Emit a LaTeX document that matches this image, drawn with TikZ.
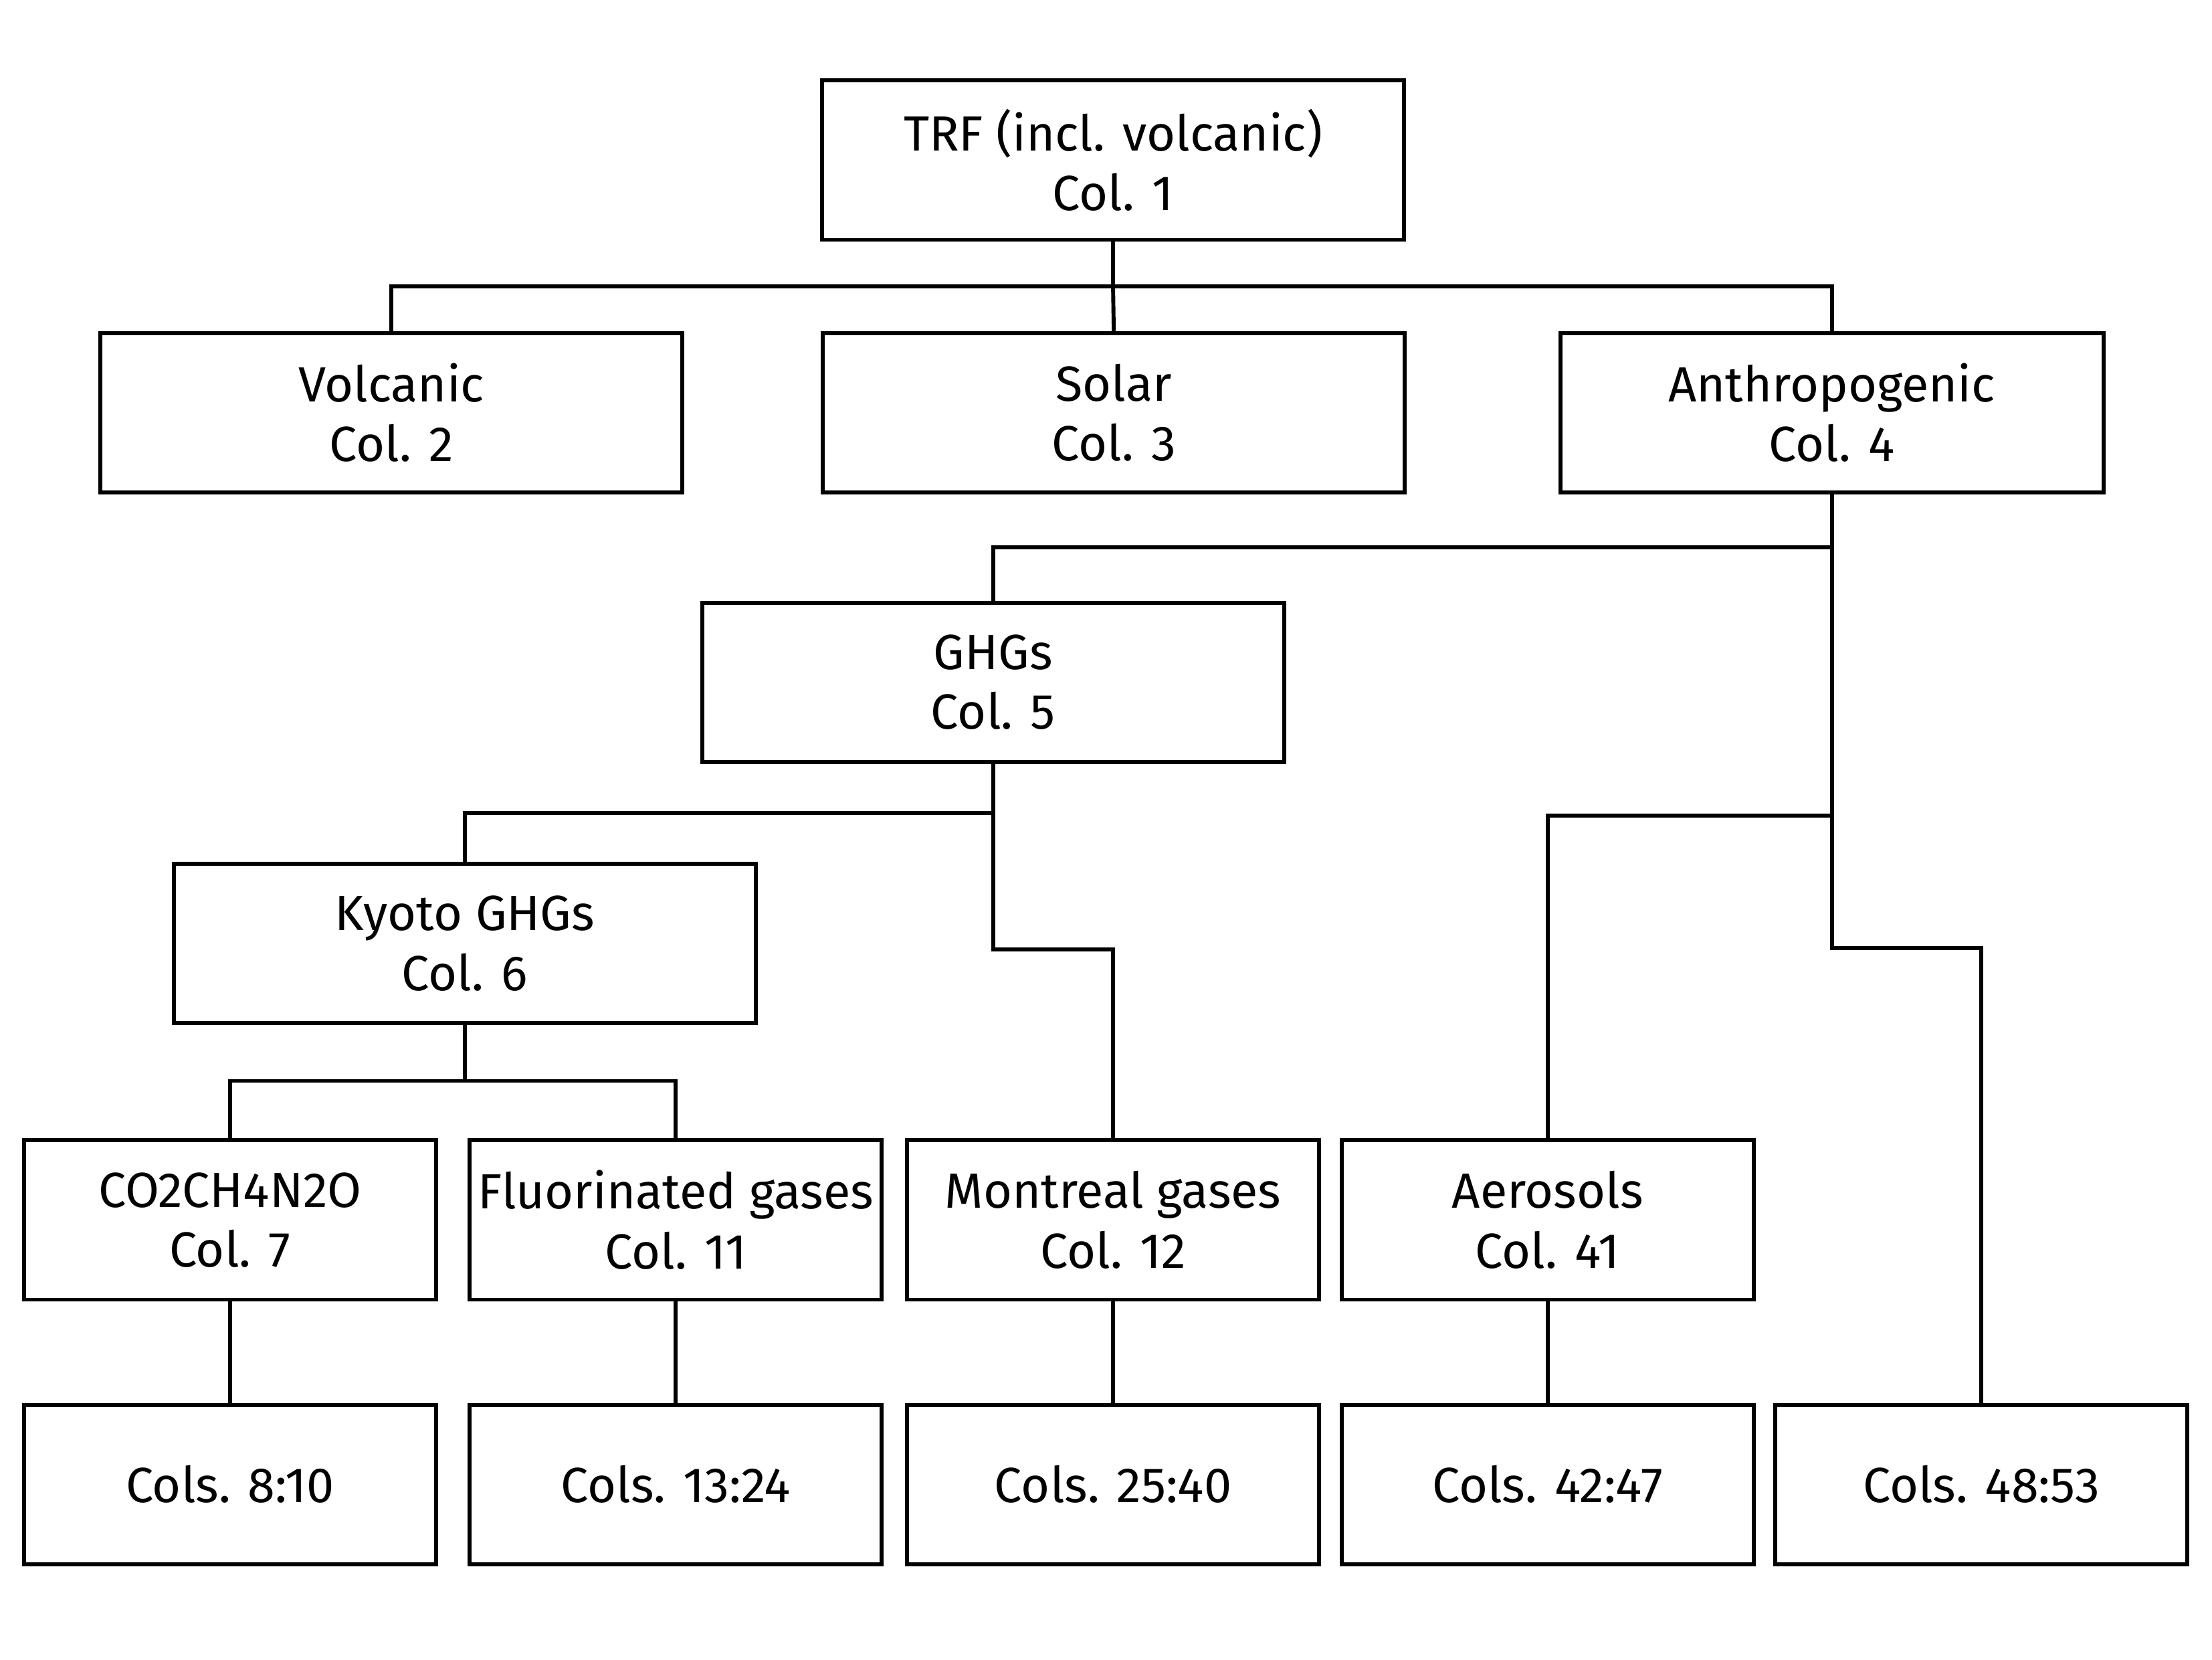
\documentclass[tikz,border=0pt]{standalone}
\usepackage{fontspec}
\setmainfont{Fira Sans}
\begin{document}
\begin{tikzpicture}[x=0.5pt,y=-0.5pt,
  box/.style={draw,line width=1.4pt,inner sep=0pt,align=center,
    minimum height=56.5pt,font=\fontsize{17.5}{21.2}\selectfont},
  wbox/.style={box,minimum width=206.25pt},
  sbox/.style={box,minimum width=146pt},
  conn/.style={line width=1.4pt}]
\useasboundingbox[fill=white] (0,0) rectangle (1568,1175.9);
% row 1
\node[wbox] (trf) at (789,113.5) {TRF (incl. volcanic)\\Col. 1};
% row 2
\node[wbox] (volc) at (277.5,292.5) {Volcanic\\Col. 2};
\node[wbox] (solar) at (789.5,292.5) {Solar\\Col. 3};
\node[box,minimum width=192.5pt] (anth) at (1298.5,292.5) {Anthropogenic\\Col. 4};
% row 3
\node[wbox] (ghg) at (704,483.5) {GHGs\\Col. 5};
% row 4
\node[wbox] (kyoto) at (329.5,668.5) {Kyoto GHGs\\Col. 6};
% row 5
\node[sbox] (co2) at (163,864.5) {CO2CH4N2O\\Col. 7};
\node[sbox] (fluo) at (479,864.5) {Fluorinated gases\\Col. 11};
\node[sbox] (mont) at (789,864.5) {Montreal gases\\Col. 12};
\node[sbox] (aero) at (1097,864.5) {Aerosols\\Col. 41};
% row 6
\node[sbox] (c810) at (163,1052) {Cols. 8:10};
\node[sbox] (c1324) at (479,1052) {Cols. 13:24};
\node[sbox] (c2540) at (789,1052) {Cols. 25:40};
\node[sbox] (c4247) at (1097,1052) {Cols. 42:47};
\node[sbox] (c4853) at (1404.5,1052) {Cols. 48:53};
% junctions
\coordinate (j1) at (789,203);
\coordinate (j2) at (1298.5,388);
\coordinate (j3) at (1298.5,578);
\coordinate (j4) at (1298.5,672);
\coordinate (j5) at (704,576);
\coordinate (j6) at (704,673);
\coordinate (j7) at (329.5,766);
% connectors
\draw[conn] (trf.south) -- (j1) -| (volc.north);
\draw[conn] (j1) -| (anth.north);
\draw[conn] (j1) -- (solar.north);
\draw[conn] (anth.south) -- (j4) -| (c4853.north);
\draw[conn] (j2) -| (ghg.north);
\draw[conn] (j3) -| (aero.north);
\draw[conn] (ghg.south) -- (j6) -| (mont.north);
\draw[conn] (j5) -| (kyoto.north);
\draw[conn] (kyoto.south) -- (j7) -| (co2.north);
\draw[conn] (j7) -| (fluo.north);
\draw[conn] (co2.south) -- (c810.north);
\draw[conn] (fluo.south) -- (c1324.north);
\draw[conn] (mont.south) -- (c2540.north);
\draw[conn] (aero.south) -- (c4247.north);
\end{tikzpicture}
\end{document}
